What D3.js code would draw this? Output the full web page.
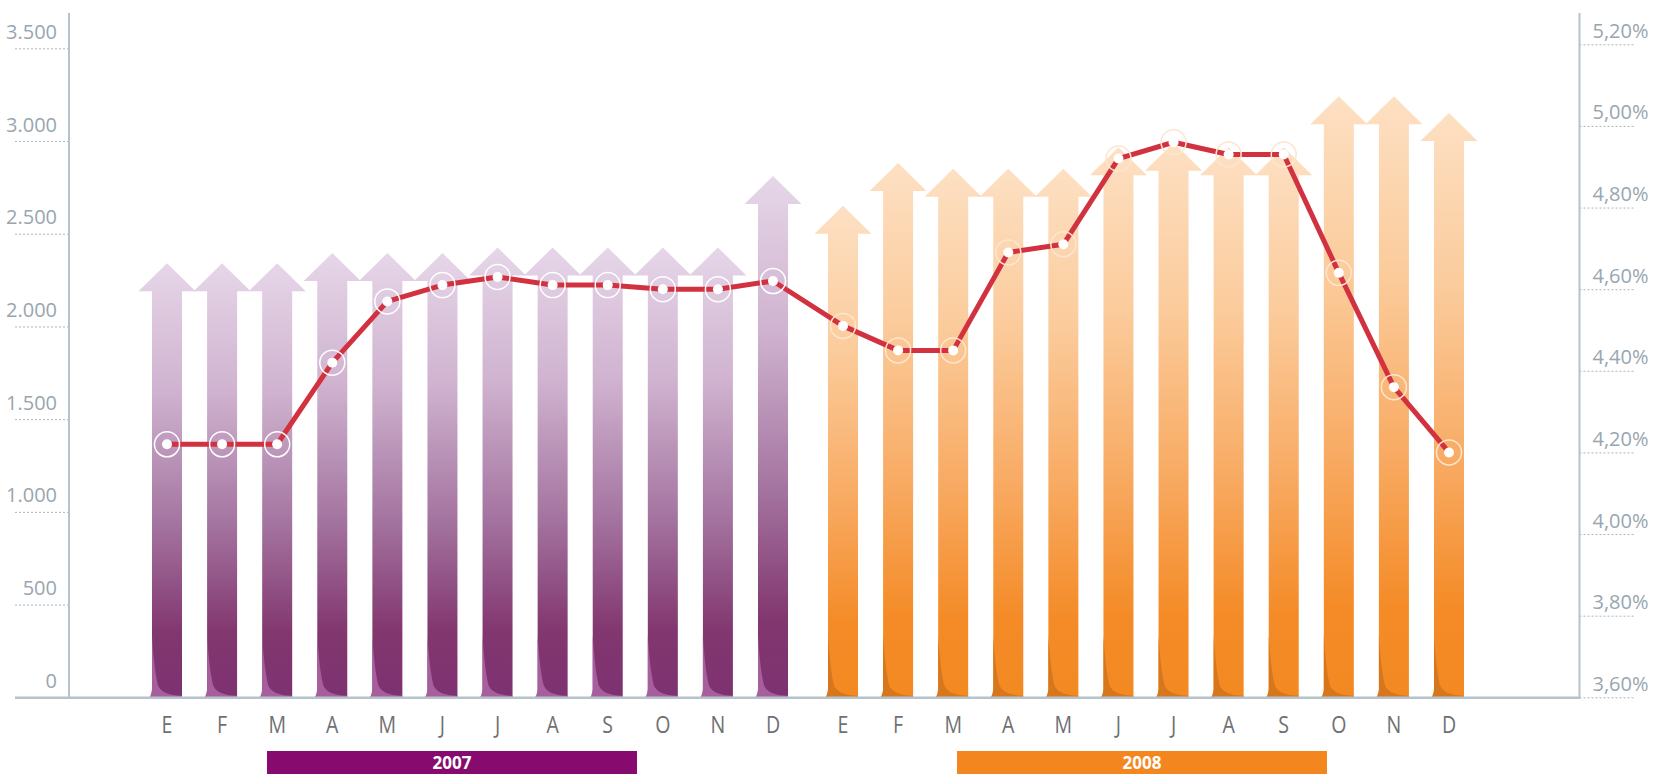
<!DOCTYPE html>
<html>
<head>
<meta charset="utf-8">
<script src="https://cdn.jsdelivr.net/npm/d3@7/dist/d3.min.js"></script>
<style>
  html, body { margin: 0; padding: 0; background: #fff; }
  svg { display: block; font-family: "Open Sans", "Noto Sans", sans-serif; }
</style>
</head>
<body>
<svg id="chart" width="1653" height="774"></svg>
<script>
// ---------------- data ----------------
const years = ["2007", "2008"];
const monthLabels = ["E", "F", "M", "A", "M", "J", "J", "A", "S", "O", "N", "D"];
const volume2007 = [2190, 2190, 2190, 2245, 2245, 2245, 2275, 2275, 2275, 2275, 2275, 2660];
const volume2008 = [2500, 2730, 2700, 2700, 2700, 2815, 2840, 2815, 2815, 3090, 3090, 3000];
const rate2007 = [4.22, 4.22, 4.22, 4.42, 4.57, 4.61, 4.63, 4.61, 4.61, 4.60, 4.60, 4.62];
const rate2008 = [4.51, 4.45, 4.45, 4.69, 4.71, 4.92, 4.96, 4.93, 4.93, 4.64, 4.36, 4.20];
const leftTicks = [0, 500, 1000, 1500, 2000, 2500, 3000, 3500];
const rightTicks = [3.6, 3.8, 4.0, 4.2, 4.4, 4.6, 4.8, 5.0, 5.2];

// ---------------- layout ----------------
const W = 1653, H = 774;
const baseY = 697.3;
const leftAxisX = 69, rightAxisX = 1579.5;
const axisColor = "#b6c3cc";
const tickColor = "#a9b7c1";
const labelColor = "#98a6b0";

const svg = d3.select("#chart");

const yL = d3.scaleLinear().domain([0, 3500]).range([baseY, 48.3]);
const yR = d3.scaleLinear().domain([3.6, 5.2]).range([baseY, 44.3]);
const xYear = d3.scalePoint().domain(years).range([167, 843]);
const xMonth = d3.scalePoint().domain(d3.range(12)).range([0, 606]);
const xBand = d3.scalePoint().domain(years).range([452, 1142]);

const loc = d3.formatLocale({ decimal: ",", thousands: ".", grouping: [3], currency: ["", "€"] });
const fmtL = loc.format(",");
const fmtR = d => loc.format(".2f")(d) + "%";

// rows
const rows = [];
years.forEach((yr, yi) => {
  const vols = yi === 0 ? volume2007 : volume2008;
  const rates = yi === 0 ? rate2007 : rate2008;
  monthLabels.forEach((m, i) => {
    rows.push({ year: yr, yi, i, label: m, vol: vols[i], rate: rates[i], x: xYear(yr) + xMonth(i) });
  });
});

// ---------------- gradients ----------------
const defs = svg.append("defs");
const grads = [
  { id: "gPurple", stops: [[0, "#e6d6e8"], [0.3, "#cfb2cf"], [0.6, "#a474a0"], [0.85, "#82376f"], [1, "#7e3170"]] },
  { id: "gOrange", stops: [[0, "#fde0c3"], [0.3, "#fbcb9b"], [0.6, "#f8aa62"], [0.85, "#f48b27"], [1, "#f38921"]] }
];
grads.forEach(g => {
  const lg = defs.append("linearGradient").attr("id", g.id)
    .attr("x1", 0).attr("y1", 0).attr("x2", 0).attr("y2", 1);
  g.stops.forEach(s => lg.append("stop").attr("offset", s[0]).attr("stop-color", s[1]));
});

// ---------------- axes ----------------
const gL = svg.append("g").attr("transform", `translate(${leftAxisX},0)`)
  .call(d3.axisLeft(yL).tickValues(leftTicks).tickFormat(fmtL).tickSize(56));
gL.select(".domain").remove();
gL.selectAll(".tick line").attr("stroke", tickColor).attr("stroke-dasharray", "2,2").attr("stroke-width", 1);
gL.selectAll(".tick text").attr("x", -12).attr("dy", 0).attr("y", -10)
  .attr("fill", labelColor).attr("font-size", 20).attr("font-family", "'Open Sans', sans-serif")
  .attr("text-anchor", "end");

const gR = svg.append("g").attr("transform", `translate(${rightAxisX},0)`)
  .call(d3.axisRight(yR).tickValues(rightTicks).tickFormat(fmtR).tickSize(55));
gR.select(".domain").remove();
gR.selectAll(".tick line").attr("stroke", tickColor).attr("stroke-dasharray", "2,2").attr("stroke-width", 1);
gR.selectAll(".tick text").attr("x", 13).attr("dy", 0).attr("y", -7)
  .attr("fill", labelColor).attr("font-size", 20).attr("font-family", "'Open Sans', sans-serif")
  .attr("text-anchor", "start");

// ---------------- bars (arrows) ----------------
const bodyHalf = 15, headHalf = 28.5, headH = 28;
function arrowPath(d) {
  const top = yL(d.vol), tip = top - headH, cx = d.x;
  return `M${cx - bodyHalf},${baseY} L${cx - bodyHalf},${top} L${cx - headHalf},${top} L${cx},${tip} L${cx + headHalf},${top} L${cx + bodyHalf},${top} L${cx + bodyHalf},${baseY} Z`;
}
function footPath(d) {
  const l = d.x - bodyHalf, r = d.x + bodyHalf, b = baseY;
  return `M${l},${b - 62} L${l},${b - 8} Q${l - 1},${b - 1} ${l - 3},${b} L${r},${b} L${r},${b - 1.5} Q${l + 10},${b - 2} ${l + 6},${b - 12} Q${l + 2},${b - 28} ${l},${b - 62} Z`;
}
const barG = svg.append("g");
barG.selectAll("path.arrow").data(rows).join("path")
  .attr("class", "arrow")
  .attr("d", arrowPath)
  .attr("fill", d => d.yi === 0 ? "url(#gPurple)" : "url(#gOrange)");
barG.selectAll("path.foot").data(rows).join("path")
  .attr("class", "foot")
  .attr("d", footPath)
  .attr("fill", d => d.yi === 0 ? "#a65e9c" : "#d6761d");

// ---------------- axis lines ----------------
svg.append("line").attr("x1", leftAxisX).attr("x2", leftAxisX).attr("y1", 13).attr("y2", baseY)
  .attr("stroke", axisColor).attr("stroke-width", 2);
svg.append("line").attr("x1", rightAxisX).attr("x2", rightAxisX).attr("y1", 13).attr("y2", baseY)
  .attr("stroke", axisColor).attr("stroke-width", 2);
svg.append("line").attr("x1", 15).attr("x2", rightAxisX + 1).attr("y1", baseY + 0.5).attr("y2", baseY + 0.5)
  .attr("stroke", axisColor).attr("stroke-width", 2.5);

// ---------------- line ----------------
const line = d3.line().x(d => d.x).y(d => yR(d.rate));
svg.append("path").datum(rows).attr("d", line)
  .attr("fill", "none").attr("stroke", "#d2323f").attr("stroke-width", 5).attr("stroke-linejoin", "round");
const ptG = svg.append("g");
ptG.selectAll("circle.ring").data(rows).join("circle")
  .attr("class", "ring").attr("cx", d => d.x).attr("cy", d => yR(d.rate)).attr("r", 12.5)
  .attr("fill", "none").attr("stroke", d => d.yi === 0 ? "#ffffff" : "#fde6cf").attr("stroke-width", 1.5);
ptG.selectAll("circle.dot").data(rows).join("circle")
  .attr("class", "dot").attr("cx", d => d.x).attr("cy", d => yR(d.rate)).attr("r", 5)
  .attr("fill", "#ffffff");

// ---------------- month labels ----------------
svg.append("g").selectAll("text").data(rows).join("text")
  .attr("transform", d => `translate(${d.x},733) scale(0.85,1)`)
  .attr("text-anchor", "middle")
  .attr("font-size", 23)
  .attr("fill", "#6f7072")
  .text(d => d.label);

// ---------------- year bands ----------------
const yearColors = { "2007": "#870b6f", "2008": "#f4861f" };
const bandHalf = 185;
const yg = svg.append("g").selectAll("g").data(years).join("g");
yg.append("rect")
  .attr("x", d => xBand(d) - bandHalf)
  .attr("width", bandHalf * 2)
  .attr("y", 751).attr("height", 23)
  .attr("fill", d => yearColors[d]);
yg.append("text")
  .attr("x", d => xBand(d))
  .attr("y", 769)
  .attr("text-anchor", "middle")
  .attr("font-size", 17).attr("font-weight", "bold").attr("fill", "#fff")
  .text(d => d);
</script>
</body>
</html>
